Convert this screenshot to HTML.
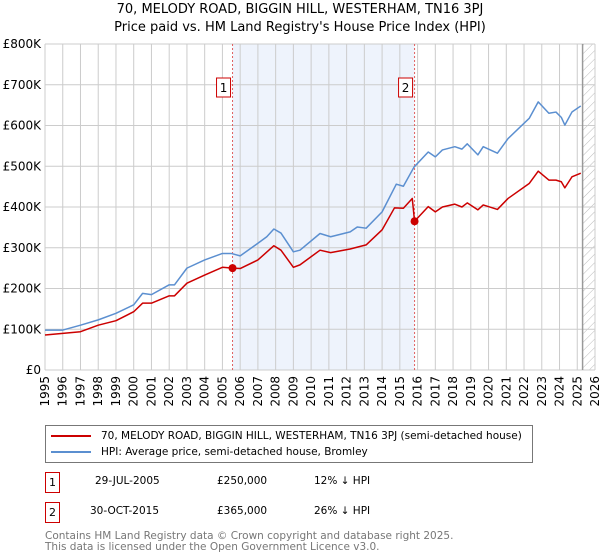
<!DOCTYPE html>
<html><head><meta charset="utf-8">
<style>
body{margin:0;background:#fff;font-family:"DejaVu Sans","Liberation Sans",sans-serif;}
#wrap{position:relative;width:600px;height:560px;overflow:hidden}
.t{position:absolute;white-space:nowrap;color:#000}
</style></head><body>
<div id="wrap">
<div class="t" style="left:0;width:600px;text-align:center;top:2px;font-size:13px">70, MELODY ROAD, BIGGIN HILL, WESTERHAM, TN16 3PJ</div>
<div class="t" style="left:0;width:600px;text-align:center;top:20px;font-size:13px">Price paid vs. HM Land Registry's House Price Index (HPI)</div>
<svg id="chart" width="600" height="420" style="position:absolute;left:0;top:0" font-family="DejaVu Sans, Liberation Sans, sans-serif">
<defs><pattern id="hatch" width="6" height="6" patternUnits="userSpaceOnUse" patternTransform="rotate(45)"><line x1="0" y1="0" x2="0" y2="6" stroke="#bbb" stroke-width="1"/></pattern></defs>
</svg>
<div style="position:absolute;left:45px;top:425px;width:488px;height:38px;border:1px solid #777;box-sizing:border-box">
<div style="position:absolute;left:5px;top:4px;font-size:10.5px;white-space:nowrap"><span style="display:inline-block;width:40px;height:2px;background:#cc0000;vertical-align:middle;margin-right:10px"></span>70, MELODY ROAD, BIGGIN HILL, WESTERHAM, TN16 3PJ (semi-detached house)</div>
<div style="position:absolute;left:5px;top:20px;font-size:10.5px;white-space:nowrap"><span style="display:inline-block;width:40px;height:2px;background:#5b8fd0;vertical-align:middle;margin-right:10px"></span>HPI: Average price, semi-detached house, Bromley</div>
</div>
<div style="position:absolute;left:45px;top:472px;width:15px;height:21px;border:1px solid #cc0000;box-sizing:border-box;font-size:11px;text-align:center;line-height:19px">1</div>
<div class="t" style="left:95px;top:475px;font-size:10.5px">29-JUL-2005</div>
<div class="t" style="left:217px;top:475px;font-size:10.5px">£250,000</div>
<div class="t" style="left:314px;top:475px;font-size:10.5px">12% ↓ HPI</div>
<div style="position:absolute;left:45px;top:502px;width:15px;height:21px;border:1px solid #cc0000;box-sizing:border-box;font-size:11px;text-align:center;line-height:19px">2</div>
<div class="t" style="left:90px;top:505px;font-size:10.5px">30-OCT-2015</div>
<div class="t" style="left:217px;top:505px;font-size:10.5px">£365,000</div>
<div class="t" style="left:314px;top:505px;font-size:10.5px">26% ↓ HPI</div>
<div class="t" style="left:45px;top:531px;font-size:10.5px;color:#777;line-height:11px">Contains HM Land Registry data © Crown copyright and database right 2025.<br>This data is licensed under the Open Government Licence v3.0.</div>
</div>
<script>
const hpiYears=[1995,1996,1997,1998,1999,2000,2000.5,2001,2002,2002.3,2003,2004,2004.5,2005,2005.5,2006,2007,2007.5,2007.9,2008.3,2009,2009.37,2010.5,2011.1,2012.2,2012.6,2013.1,2014,2014.8,2015.2,2015.8,2016.6,2017,2017.4,2018.1,2018.5,2018.8,2019.4,2019.7,2020.5,2021.1,2022.3,2022.8,2023.4,2023.8,2024.1,2024.3,2024.7,2025.2];
const hpiValues=[98,98,110,123,139,160,188,185,209,209,250,270,278,286,286,280,311,327,346,336,290,294,335,327,339,351,348,388,456,451,498,535,523,540,548,542,555,528,548,532,568,618,658,630,633,620,601,633,648];
const priceYears=[1995,1997,1998,1999,2000,2000.5,2001,2002,2002.3,2003,2004,2005,2005.57,2006,2007,2007.9,2008.3,2009,2009.37,2010.5,2011.1,2012.2,2013.1,2014,2014.7,2015.2,2015.7,2015.83,2016.6,2017,2017.4,2018.1,2018.5,2018.8,2019.4,2019.7,2020.5,2021.1,2022.3,2022.8,2023.4,2023.8,2024.1,2024.3,2024.7,2025.2];
const priceValues=[86,94,110,121,143,164,164,182,182,213,233,252,250,249,270,305,294,252,258,294,288,297,307,344,398,397,421,365,401,388,400,407,400,410,393,405,394,421,458,488,466,466,462,447,474,483];
const saleYears=[2005.57,2015.83];
const saleValues=[250,365];
const saleLabels=["1","2"];
const yTicks=[0,100,200,300,400,500,600,700,800];
const yTickLabels=["£0","£100K","£200K","£300K","£400K","£500K","£600K","£700K","£800K"];
const xTicks=[1995,1996,1997,1998,1999,2000,2001,2002,2003,2004,2005,2006,2007,2008,2009,2010,2011,2012,2013,2014,2015,2016,2017,2018,2019,2020,2021,2022,2023,2024,2025,2026];
const dataEnd=2025.3;

const L=45,R=595,T=44,B=370,X0=1995,X1=2026,YMAX=800;
const sx=y=>L+(y-X0)/(X1-X0)*(R-L);
const sy=v=>B-v/YMAX*(B-T);
const svg=document.getElementById('chart');
const NS='http://www.w3.org/2000/svg';
function mk(tag,attrs){const e=document.createElementNS(NS,tag);for(const k in attrs)e.setAttribute(k,attrs[k]);svg.appendChild(e);return e;}

let e=mk('rect',{x:sx(saleYears[0]),y:T,width:sx(saleYears[1])-sx(saleYears[0]),height:B-T,fill:'#eef3fc'});


e=mk('rect',{x:sx(dataEnd),y:T,width:R-sx(dataEnd),height:B-T,fill:'url(#hatch)'});



yTicks.forEach((v,i)=>{
  let g=mk('line',{x1:L,x2:R,y1:sy(v),y2:sy(v),stroke:'#ccc','stroke-width':1});
  
  
  let t=mk('text',{x:L-4,y:sy(v)+4,'text-anchor':'end','font-size':12,fill:'#000'});
  t.textContent=yTickLabels[i];
  
  
});
xTicks.forEach(y=>{
  let g=mk('line',{x1:sx(y),x2:sx(y),y1:T,y2:B,stroke:'#ccc','stroke-width':1});
  
  
  let t=mk('text',{x:0,y:0,'text-anchor':'end','font-size':12,fill:'#000',transform:`translate(${sx(y)+4},${B+6}) rotate(-90)`});
  t.textContent=y;
  
  
});
e=mk('line',{x1:sx(dataEnd),x2:sx(dataEnd),y1:T,y2:B,stroke:'#999','stroke-width':1.5});



saleYears.forEach((y,i)=>{
  let l=mk('line',{x1:sx(y),x2:sx(y),y1:T,y2:B,stroke:'#e06060','stroke-width':1,'stroke-dasharray':'2,2'});
  
  
  let r=mk('rect',{x:sx(y)-16,y:78,width:14,height:19,fill:'#fff',stroke:'#cc0000','stroke-width':1});
  
  
  let t=mk('text',{x:sx(y)-9,y:92,'text-anchor':'middle','font-size':12});
  t.textContent=saleLabels[i];
  
  
});

function line(xs,vs,color,name){
  const p=mk('polyline',{points:xs.map((x,i)=>sx(x)+','+sy(vs[i])).join(' '),fill:'none',stroke:color,'stroke-width':1.5,'stroke-linejoin':'round'});
  
  
}
line(hpiYears,hpiValues,'#5b8fd0','hpi-line');
line(priceYears,priceValues,'#cc0000','price-paid-line');
saleYears.forEach((y,i)=>{
  let c=mk('circle',{cx:sx(y),cy:sy(saleValues[i]),r:4,fill:'#cc0000'});
  
  
});
</script>
</body></html>
